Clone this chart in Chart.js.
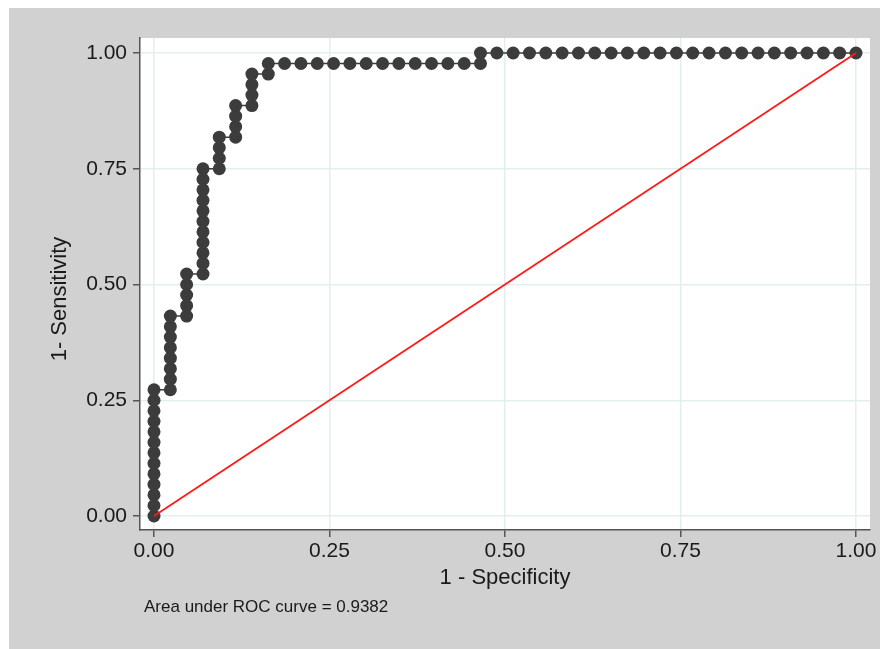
<!DOCTYPE html>
<html>
<head>
<meta charset="utf-8">
<script src="https://cdn.jsdelivr.net/npm/chart.js@4.4.1/dist/chart.umd.min.js"></script>
<style>
  html, body { margin: 0; padding: 0; background: #ffffff; }
  #wrap { width: 890px; height: 649px; position: relative; }
</style>
</head>
<body>
<div id="wrap"><canvas id="c" width="890" height="649"></canvas></div>
<script>
// ---- data ----
const fprValues = [
  0,0,0,0,0,0,0,0,0,0,0,0,0,
  0.0233,0.0233,0.0233,0.0233,0.0233,0.0233,0.0233,0.0233,
  0.0465,0.0465,0.0465,0.0465,0.0465,
  0.0698,0.0698,0.0698,0.0698,0.0698,0.0698,0.0698,0.0698,0.0698,0.0698,0.0698,
  0.0930,0.0930,0.0930,0.0930,
  0.1163,0.1163,0.1163,0.1163,
  0.1395,0.1395,0.1395,0.1395,
  0.1628,0.1628,
  0.1860,0.2093,0.2326,0.2558,0.2791,0.3023,0.3256,0.3488,0.3721,0.3953,0.4186,0.4419,
  0.4651,0.4651,
  0.4884,0.5116,0.5349,0.5581,0.5814,0.6047,0.6279,0.6512,0.6744,0.6977,0.7209,0.7442,
  0.7674,0.7907,0.8140,0.8372,0.8605,0.8837,0.9070,0.9302,0.9535,0.9767,1
];
const sensitivityValues = [
  0,0.0227,0.0455,0.0682,0.0909,0.1136,0.1364,0.1591,0.1818,0.2045,0.2273,0.2500,0.2727,
  0.2727,0.2955,0.3182,0.3409,0.3636,0.3864,0.4091,0.4318,
  0.4318,0.4545,0.4773,0.5000,0.5227,
  0.5227,0.5455,0.5682,0.5909,0.6136,0.6364,0.6591,0.6818,0.7045,0.7273,0.7500,
  0.7500,0.7727,0.7955,0.8182,
  0.8182,0.8409,0.8636,0.8864,
  0.8864,0.9091,0.9318,0.9545,
  0.9545,0.9773,
  0.9773,0.9773,0.9773,0.9773,0.9773,0.9773,0.9773,0.9773,0.9773,0.9773,0.9773,0.9773,
  0.9773,1,
  1,1,1,1,1,1,1,1,1,1,1,1,
  1,1,1,1,1,1,1,1,1,1,1
];
const referenceX = [0, 1];
const referenceY = [0, 1];
const tickValues = [0, 0.25, 0.5, 0.75, 1];
const xTitle = '1 - Specificity';
const yTitle = '1- Sensitivity';
const noteText = 'Area under ROC curve = 0.9382';

const rocPoints = fprValues.map((x, i) => ({ x: x, y: sensitivityValues[i] }));
const refPoints = referenceX.map((x, i) => ({ x: x, y: referenceY[i] }));

const FONT = "'Liberation Sans', Arial, Helvetica, sans-serif";

const backgroundPlugin = {
  id: 'bg',
  beforeDraw(chart) {
    const { ctx, chartArea } = chart;
    ctx.save();
    ctx.fillStyle = '#ffffff';
    ctx.fillRect(0, 0, chart.width, chart.height);
    ctx.fillStyle = '#d1d1d1';
    ctx.fillRect(9, 8, 871, 641);
    ctx.fillStyle = '#ffffff';
    ctx.fillRect(chartArea.left, chartArea.top, chartArea.right - chartArea.left, chartArea.bottom - chartArea.top);
    ctx.restore();
  },
  afterDraw(chart) {
    const { ctx } = chart;
    ctx.save();
    ctx.fillStyle = '#1a1a1a';
    // y axis title
    ctx.translate(60, 299);
    ctx.rotate(-Math.PI / 2);
    ctx.font = '22px ' + FONT;
    ctx.textAlign = 'center';
    ctx.textBaseline = 'middle';
    ctx.fillText(yTitle, 0, 0);
    ctx.restore();
    ctx.save();
    ctx.fillStyle = '#1a1a1a';
    ctx.font = '17px ' + FONT;
    ctx.textAlign = 'left';
    ctx.textBaseline = 'middle';
    ctx.fillText(noteText, 144, 607);
    ctx.restore();
  }
};

new Chart(document.getElementById('c'), {
  type: 'scatter',
  data: {
    datasets: [
      {
        label: 'reference',
        data: refPoints,
        showLine: true,
        borderColor: '#ff1a1a',
        borderWidth: 1.8,
        pointRadius: 0,
        order: 0
      },
      {
        label: 'ROC',
        data: rocPoints,
        showLine: true,
        borderColor: '#3c3c3c',
        borderWidth: 1.5,
        backgroundColor: '#3c3c3c',
        pointBackgroundColor: '#3c3c3c',
        pointBorderColor: '#3c3c3c',
        pointBorderWidth: 0,
        pointRadius: 6.5,
        order: 1
      }
    ]
  },
  options: {
    responsive: false,
    animation: false,
    devicePixelRatio: 1,
    layout: { padding: { left: 0, top: 38, right: 20, bottom: 0 } },
    plugins: { legend: { display: false }, tooltip: { enabled: false } },
    scales: {
      x: {
        type: 'linear',
        min: -0.01994,
        max: 1.01994,
        afterBuildTicks(scale) { scale.ticks = tickValues.map(v => ({ value: v })); },
        afterFit(scale) { scale.height = 119; },
        ticks: {
          callback: v => Number(v).toFixed(2),
          font: { family: FONT, size: 21 },
          color: '#1a1a1a',
          padding: 2,
          maxRotation: 0,
          autoSkip: false
        },
        grid: { color: '#e3eeee', lineWidth: 1.5, tickLength: 7, tickColor: '#555555', tickWidth: 1.5 },
        border: { display: true, color: '#555555', width: 1.5 },
        title: {
          display: true,
          text: xTitle,
          font: { family: FONT, size: 22 },
          color: '#1a1a1a',
          padding: { top: 0, bottom: 58 }
        }
      },
      y: {
        type: 'linear',
        min: -0.0302,
        max: 1.0324,
        afterBuildTicks(scale) { scale.ticks = tickValues.map(v => ({ value: v })); },
        afterFit(scale) { scale.width = 140; },
        ticks: {
          callback: v => Number(v).toFixed(2),
          font: { family: FONT, size: 21 },
          color: '#1a1a1a',
          padding: 6,
          autoSkip: false
        },
        grid: { color: '#e3eeee', lineWidth: 1.5, tickLength: 7, tickColor: '#555555', tickWidth: 1.5 },
        border: { display: true, color: '#555555', width: 1.5 }
      }
    }
  },
  plugins: [backgroundPlugin]
});
</script>
</body>
</html>
